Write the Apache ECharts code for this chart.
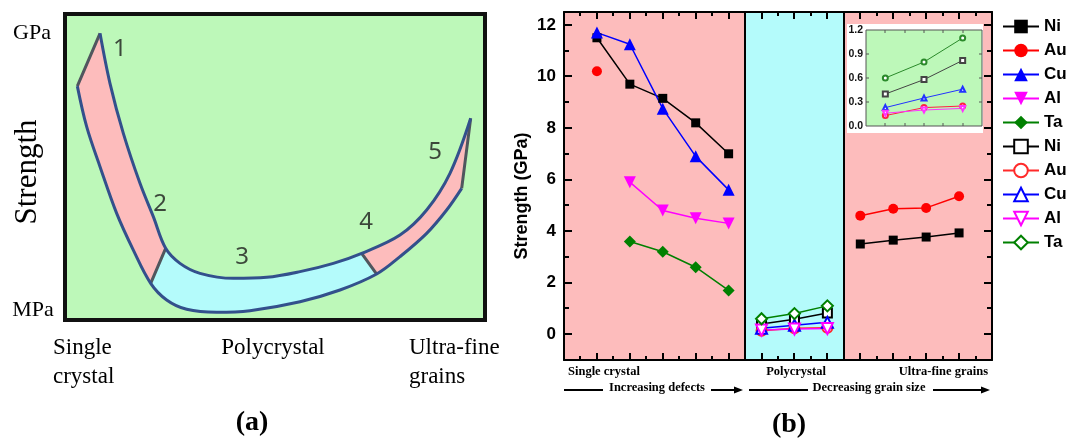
<!DOCTYPE html>
<html>
<head>
<meta charset="utf-8">
<script src="https://cdn.jsdelivr.net/npm/echarts@6/dist/echarts.min.js"></script>
<style>
  html, body { margin: 0; padding: 0; background: #fff; }
  #chart { width: 1067px; height: 447px; }
</style>
</head>
<body>
<div id="chart"></div>
<script>
// ---------- Panel (b): strength values (GPa) ----------
// x positions: 1-5 single crystal, 6-8 polycrystal, 9-12 ultra-fine grains
const positions = [1, 2, 3, 4, 5, 6, 7, 8, 9, 10, 11, 12];
const niSolid = [11.5, 9.7, 9.15, 8.2, 7.0, null, null, null, 3.5, 3.65, 3.77, 3.93];
const auSolid = [10.2, null, null, null, null, null, null, null, 4.6, 4.87, 4.9, 5.35];
const cuSolid = [11.7, 11.25, 8.75, 6.9, 5.6, null, null, null, null, null, null, null];
const alSolid = [null, 5.9, 4.8, 4.5, 4.3, null, null, null, null, null, null, null];
const taSolid = [null, 3.6, 3.2, 2.6, 1.7, null, null, null, null, null, null, null];

const polyPositions = [6, 7, 8];
const insetPositions = [1, 2, 3];
const niPoly = [0.4, 0.58, 0.82];
const auPoly = [0.13, 0.23, 0.25];
const cuPoly = [0.23, 0.35, 0.46];
const alPoly = [0.16, 0.2, 0.22];
const taPoly = [0.6, 0.8, 1.1];

const yMajorTicks = [0, 2, 4, 6, 8, 10, 12];
const yMinorTicks = [1, 3, 5, 7, 9, 11];
const xMajorTicks = [1, 2, 3, 4, 5, 6, 7, 8, 9, 10, 11, 12];
const xMinorTicks = [0.5, 1.5, 2.5, 3.5, 4.5, 5.5, 6.5, 7.5, 8.5, 9.5, 10.5, 11.5, 12.5];
const insetXTicks = [1, 1.5, 2, 2.5, 3];
const insetYTicks = [0.3, 0.6, 0.9];
// region bands: [start, end, kind]
const regionBands = [[0, 5.5, 'defect'], [5.5, 8.5, 'poly'], [8.5, 13, 'fine']];
const regionEdges = [5.5, 8.5];

// ---------- Panel (a): schematic strength band (axis units 0-100) ----------
const innerEdge = [
  [8.73, 93.12], [11.08, 76.99], [14.23, 60.86], [18.16, 44.73], [21.3, 33.98],
  [24.21, 23.76], [27.59, 18.92], [32.31, 15.7], [40.17, 14.09], [48.04, 14.41],
  [55.9, 16.24], [63.76, 18.92], [70.44, 22.15], [79.48, 28.06], [85.77, 36.13],
  [91.27, 47.96], [96.15, 65.7]
];
const outerEdge = [
  [3.38, 76.1], [5.58, 63.0], [8.73, 50.1], [12.66, 35.05], [16.59, 23.2],
  [20.68, 12.47], [24.45, 7.1], [29.17, 4.09], [36.24, 3.12], [44.1, 3.66],
  [55.9, 6.56], [65.33, 10.32], [73.98, 15.48], [79.48, 21.08], [85.77, 28.6],
  [90.49, 36.13], [94.03, 43.12]
];
const dividerIndex = [5, 12];
const stageLabels = [
  { name: '1', value: [13.44, 88.06] },
  { name: '2', value: [22.88, 38.06] },
  { name: '3', value: [42.22, 20.97] },
  { name: '4', value: [71.46, 32.26] },
  { name: '5', value: [87.74, 54.84] }
];

const SANS = '"Liberation Sans", Arial, sans-serif';
const SERIF = '"Liberation Serif", "Times New Roman", serif';
const PINK = '#fdbcbc';
const CYAN = '#b4fbfb';
const GREEN = '#bdf8b9';

function pairs(xs, ys) { return xs.map((x, i) => [x, ys[i]]); }

function solidSeries(name, ys, color, symbol, size, rotate) {
  return {
    type: 'line', name, xAxisIndex: 0, yAxisIndex: 0,
    data: pairs(positions, ys), connectNulls: false,
    symbol, symbolSize: size, symbolRotate: rotate || 0,
    lineStyle: { color, width: 1.5 }, itemStyle: { color }, z: 5
  };
}
function hollowSeries(name, ys, color, symbol, size, rotate) {
  return {
    type: 'line', name, xAxisIndex: 0, yAxisIndex: 0,
    data: pairs(polyPositions, ys),
    symbol, symbolSize: size, symbolRotate: rotate || 0,
    lineStyle: { color, width: 1.5 },
    itemStyle: { color, borderColor: color, borderWidth: 1.5 }, z: 6
  };
}
function insetSeries(name, ys, color, symbol, size, rotate) {
  return {
    type: 'line', name, xAxisIndex: 2, yAxisIndex: 4,
    data: pairs(insetPositions, ys),
    symbol, symbolSize: size, symbolRotate: rotate || 0,
    lineStyle: { color, width: 1 },
    itemStyle: { color, borderColor: color, borderWidth: 1 }, z: 42
  };
}

// inward tick marks on all four sides of a plot frame: [side (0 = x, 1 = y), value, length]
function tickSpecs(xMajor, xMinor, yMajor, yMinor, majorX, minorX, majorY, minorY) {
  return [].concat(
    xMajor.map(v => [0, v, majorX]), xMinor.map(v => [0, v, minorX]),
    yMajor.map(v => [1, v, majorY]), yMinor.map(v => [1, v, minorY]));
}
function tickRenderer(specs, xRange, yRange, color, width) {
  return (params, api) => {
    const [side, v, len] = specs[params.dataIndex];
    const style = { stroke: color, lineWidth: width };
    if (side === 0) {
      const b = api.coord([v, yRange[0]]);
      const t = api.coord([v, yRange[1]]);
      const x = Math.round(b[0]);
      return { type: 'group', children: [
        { type: 'line', shape: { x1: x, y1: b[1], x2: x, y2: b[1] - len }, style },
        { type: 'line', shape: { x1: x, y1: t[1], x2: x, y2: t[1] + len }, style }
      ] };
    }
    const l = api.coord([xRange[0], v]);
    const r = api.coord([xRange[1], v]);
    const y = Math.round(l[1]);
    return { type: 'group', children: [
      { type: 'line', shape: { x1: l[0], y1: y, x2: l[0] + len, y2: y }, style },
      { type: 'line', shape: { x1: r[0], y1: y, x2: r[0] - len, y2: y }, style }
    ] };
  };
}
const mainTicks = tickSpecs(xMajorTicks, xMinorTicks, yMajorTicks, yMinorTicks, 7, 4, 8, 5);
const insetTicks = tickSpecs(insetXTicks, [], insetYTicks, [], 3, 0, 3, 0);

// caps and dividers of the schematic band, separated by gaps
const bandCuts = [
  outerEdge[0], innerEdge[0], [null, null],
  innerEdge[dividerIndex[0]], outerEdge[dividerIndex[0]], [null, null],
  innerEdge[dividerIndex[1]], outerEdge[dividerIndex[1]], [null, null],
  innerEdge[16], outerEdge[16]
];

function bandRegion(from, to) {
  return innerEdge.slice(from, to + 1).concat(outerEdge.slice(from, to + 1).reverse());
}

const frameLine = () => ({ show: true, onZero: false, lineStyle: { color: '#000', width: 2 } });
const noTick = () => ({ show: false });

const option = {
  animation: false,
  backgroundColor: '#fff',
  grid: [
    { left: 564, top: 12, width: 428, height: 348, show: false, z: 30 },
    { left: 866, top: 30, width: 116, height: 96, show: true, backgroundColor: GREEN,
      borderColor: '#555', borderWidth: 1, z: 40 },
    { left: 63, top: 12, width: 424, height: 310, show: true, backgroundColor: GREEN, borderWidth: 0 }
  ],
  xAxis: [
    { gridIndex: 0, type: 'value', min: 0, max: 13, interval: 1, position: 'bottom', z: 30,
      axisLine: frameLine(), axisTick: noTick(),
      axisLabel: { show: false }, splitLine: { show: false } },
    { gridIndex: 0, type: 'value', min: 0, max: 13, interval: 1, position: 'top', z: 30,
      axisLine: frameLine(), axisTick: noTick(),
      axisLabel: { show: false }, splitLine: { show: false } },
    { gridIndex: 1, type: 'value', min: 0.5, max: 3.5, interval: 0.5, position: 'bottom', z: 41,
      axisLine: { show: false }, axisTick: noTick(),
      axisLabel: { show: false }, splitLine: { show: false } },
    { gridIndex: 1, type: 'value', min: 0.5, max: 3.5, interval: 0.5, position: 'top', z: 41,
      axisLine: { show: false }, axisTick: noTick(),
      axisLabel: { show: false }, splitLine: { show: false } },
    { gridIndex: 2, type: 'value', min: 0, max: 100, show: false }
  ],
  yAxis: [
    { gridIndex: 0, type: 'value', min: -1, max: 12.5, position: 'left', z: 30,
      axisLine: frameLine(), axisTick: noTick(),
      axisLabel: { show: true, customValues: yMajorTicks, fontSize: 17, fontWeight: 'bold', color: '#000',
        fontFamily: SANS, margin: 8 },
      splitLine: { show: false } },
    { gridIndex: 0, type: 'value', min: -1, max: 12.5, position: 'left', show: false },
    { gridIndex: 0, type: 'value', min: -1, max: 12.5, position: 'right', z: 30,
      axisLine: frameLine(), axisTick: noTick(),
      axisLabel: { show: false }, splitLine: { show: false } },
    { gridIndex: 0, type: 'value', min: -1, max: 12.5, position: 'right', show: false },
    { gridIndex: 1, type: 'value', min: 0, max: 1.2, interval: 0.3, position: 'left', z: 41,
      axisLine: { show: false }, axisTick: noTick(),
      axisLabel: { show: true, fontSize: 10.5, fontWeight: 'bold', color: '#111', fontFamily: SANS, margin: 3,
        formatter: v => v.toFixed(1) },
      splitLine: { show: false } },
    { gridIndex: 1, type: 'value', min: 0, max: 1.2, interval: 0.3, position: 'right', z: 41,
      axisLine: { show: false }, axisTick: noTick(),
      axisLabel: { show: false }, splitLine: { show: false } },
    { gridIndex: 2, type: 'value', min: 0, max: 100, show: false }
  ],
  legend: {
    orient: 'vertical', left: 1002, top: 18, padding: 0,
    itemWidth: 36, itemHeight: 17, itemGap: 7, selectedMode: false,
    data: ['Ni', 'Au', 'Cu', 'Al', 'Ta',
      'Ni polycrystal', 'Au polycrystal', 'Cu polycrystal', 'Al polycrystal', 'Ta polycrystal'],
    formatter: n => n.split(' ')[0],
    textStyle: { fontSize: 17, fontWeight: 'bold', fontFamily: SANS, color: '#000' }
  },
  series: [
    // background regions of panel (b), spanning the full value range
    { type: 'custom', name: 'regions', xAxisIndex: 0, yAxisIndex: 0, z: -1, silent: true,
      data: regionBands,
      renderItem: (params, api) => {
        const band = regionBands[params.dataIndex];
        const p0 = api.coord([band[0], 12.5]);
        const p1 = api.coord([band[1], -1]);
        return { type: 'rect', shape: { x: p0[0], y: p0[1], width: p1[0] - p0[0], height: p1[1] - p0[1] },
          style: { fill: band[2] === 'poly' ? CYAN : PINK } };
      } },
    { type: 'line', name: 'bounds', xAxisIndex: 0, yAxisIndex: 0, data: [], z: 3,
      markLine: { silent: true, symbol: 'none', label: { show: false },
        lineStyle: { color: '#000', width: 2, type: 'solid' },
        data: regionEdges.map(v => ({ xAxis: v })) } },
    // inward ticks of the main frame
    { type: 'custom', name: 'frame ticks', xAxisIndex: 0, yAxisIndex: 0, z: 30, silent: true,
      data: mainTicks, renderItem: tickRenderer(mainTicks, [0, 13], [-1, 12.5], '#000', 2) },

    solidSeries('Ni', niSolid, '#000000', 'rect', 9),
    solidSeries('Au', auSolid, '#ff0000', 'circle', 10),
    solidSeries('Cu', cuSolid, '#0000ff', 'triangle', 12),
    solidSeries('Al', alSolid, '#ff00ff', 'triangle', 12, 180),
    solidSeries('Ta', taSolid, '#008000', 'diamond', 12),

    hollowSeries('Ni polycrystal', niPoly, '#000000', 'emptyRect', 9),
    hollowSeries('Au polycrystal', auPoly, '#ff2a2a', 'emptyCircle', 10),
    hollowSeries('Cu polycrystal', cuPoly, '#0000ff', 'emptyTriangle', 11),
    hollowSeries('Al polycrystal', alPoly, '#ff00ff', 'emptyTriangle', 11, 180),
    hollowSeries('Ta polycrystal', taPoly, '#008000', 'emptyDiamond', 11),

    insetSeries('inset Ta', taPoly, '#2a8a2a', 'emptyCircle', 5),
    insetSeries('inset Ni', niPoly, '#444444', 'emptyRect', 5),
    insetSeries('inset Cu', cuPoly, '#2233ff', 'emptyTriangle', 5),
    insetSeries('inset Au', auPoly, '#ff2040', 'emptyCircle', 5),
    insetSeries('inset Al', alPoly, '#ff33ff', 'emptyTriangle', 5, 180),
    { type: 'custom', name: 'inset ticks', xAxisIndex: 2, yAxisIndex: 4, z: 43, silent: true,
      data: insetTicks, renderItem: tickRenderer(insetTicks, [0.5, 3.5], [0, 1.2], '#555', 1) },

    // panel (a): filled band regions
    { type: 'custom', name: 'band fill', xAxisIndex: 4, yAxisIndex: 6, data: [[0, 0]], z: 2,
      renderItem: (params, api) => {
        const toPx = pts => pts.map(p => api.coord(p));
        const regions = [
          { pts: bandRegion(0, dividerIndex[0]), fill: PINK },
          { pts: bandRegion(dividerIndex[0], dividerIndex[1]), fill: CYAN },
          { pts: bandRegion(dividerIndex[1], innerEdge.length - 1), fill: PINK }
        ];
        return { type: 'group', children: regions.map(r => ({
          type: 'polygon', shape: { points: toPx(r.pts) }, style: { fill: r.fill }
        })) };
      } },
    { type: 'line', name: 'band inner', xAxisIndex: 4, yAxisIndex: 6, data: innerEdge,
      smooth: 0.35, symbol: 'none', z: 4, lineStyle: { color: '#33508c', width: 3 } },
    { type: 'line', name: 'band outer', xAxisIndex: 4, yAxisIndex: 6, data: outerEdge,
      smooth: 0.35, symbol: 'none', z: 4, lineStyle: { color: '#33508c', width: 3 } },
    { type: 'line', name: 'band cuts', xAxisIndex: 4, yAxisIndex: 6, data: bandCuts,
      connectNulls: false, symbol: 'none', z: 3, lineStyle: { color: '#50565e', width: 3 } },
    { type: 'scatter', name: 'stages', xAxisIndex: 4, yAxisIndex: 6, data: stageLabels,
      symbolSize: 0, z: 5,
      label: { show: true, position: 'inside', formatter: '{b}', fontSize: 24,
        fontFamily: '"Noto Sans", sans-serif', color: '#1a1a1a' } }
  ],
  graphic: [
    // inset backdrop
    { type: 'rect', z: 39, shape: { x: 847, y: 24, width: 136, height: 109 }, style: { fill: '#fff' } },
    // panel (b) axis title and annotations
    { type: 'text', x: 522, y: 196, rotation: Math.PI / 2,
      style: { text: 'Strength (GPa)', font: 'bold 18px ' + SANS, fill: '#000',
        textAlign: 'center', textVerticalAlign: 'middle' } },
    { type: 'text', x: 568, y: 372, style: { text: 'Single crystal', font: 'bold 12.5px ' + SERIF,
      fill: '#000', textAlign: 'left', textVerticalAlign: 'middle' } },
    { type: 'text', x: 796, y: 372, style: { text: 'Polycrystal', font: 'bold 12.5px ' + SERIF,
      fill: '#000', textAlign: 'center', textVerticalAlign: 'middle' } },
    { type: 'text', x: 988, y: 372, style: { text: 'Ultra-fine grains', font: 'bold 12.5px ' + SERIF,
      fill: '#000', textAlign: 'right', textVerticalAlign: 'middle' } },
    { type: 'text', x: 657, y: 388, style: { text: 'Increasing defects', font: 'bold 12.5px ' + SERIF,
      fill: '#000', textAlign: 'center', textVerticalAlign: 'middle' } },
    { type: 'text', x: 869, y: 388, style: { text: 'Decreasing grain size', font: 'bold 12.5px ' + SERIF,
      fill: '#000', textAlign: 'center', textVerticalAlign: 'middle' } },
    { type: 'line', shape: { x1: 564, y1: 390, x2: 603, y2: 390 }, style: { stroke: '#000', lineWidth: 2 } },
    { type: 'line', shape: { x1: 711, y1: 390, x2: 736, y2: 390 }, style: { stroke: '#000', lineWidth: 2 } },
    { type: 'polygon', shape: { points: [[743, 390], [734, 386.5], [734, 393.5]] }, style: { fill: '#000' } },
    { type: 'line', shape: { x1: 749, y1: 390, x2: 808, y2: 390 }, style: { stroke: '#000', lineWidth: 2 } },
    { type: 'line', shape: { x1: 933, y1: 390, x2: 983, y2: 390 }, style: { stroke: '#000', lineWidth: 2 } },
    { type: 'polygon', shape: { points: [[990, 390], [981, 386.5], [981, 393.5]] }, style: { fill: '#000' } },
    { type: 'text', x: 789, y: 425, style: { text: '(b)', font: 'bold 28px ' + SERIF, fill: '#000',
      textAlign: 'center', textVerticalAlign: 'middle' } },

    // panel (a) frame and labels
    { type: 'rect', z: 10, shape: { x: 65, y: 14, width: 420, height: 306 },
      style: { fill: 'none', stroke: '#111', lineWidth: 4 } },
    { type: 'text', x: 32, y: 33, style: { text: 'GPa', font: '22px ' + SERIF, fill: '#000',
      textAlign: 'center', textVerticalAlign: 'middle' } },
    { type: 'text', x: 33, y: 310, style: { text: 'MPa', font: '22px ' + SERIF, fill: '#000',
      textAlign: 'center', textVerticalAlign: 'middle' } },
    { type: 'text', x: 28, y: 172, rotation: Math.PI / 2,
      style: { text: 'Strength', font: '31px ' + SERIF, fill: '#000',
        textAlign: 'center', textVerticalAlign: 'middle' } },
    { type: 'text', x: 53, y: 348, style: { text: 'Single', font: '23px ' + SERIF, fill: '#000',
      textAlign: 'left', textVerticalAlign: 'middle' } },
    { type: 'text', x: 53, y: 377, style: { text: 'crystal', font: '23px ' + SERIF, fill: '#000',
      textAlign: 'left', textVerticalAlign: 'middle' } },
    { type: 'text', x: 273, y: 348, style: { text: 'Polycrystal', font: '23px ' + SERIF, fill: '#000',
      textAlign: 'center', textVerticalAlign: 'middle' } },
    { type: 'text', x: 409, y: 348, style: { text: 'Ultra-fine', font: '23px ' + SERIF, fill: '#000',
      textAlign: 'left', textVerticalAlign: 'middle' } },
    { type: 'text', x: 409, y: 377, style: { text: 'grains', font: '23px ' + SERIF, fill: '#000',
      textAlign: 'left', textVerticalAlign: 'middle' } },
    { type: 'text', x: 252, y: 423, style: { text: '(a)', font: 'bold 28px ' + SERIF, fill: '#000',
      textAlign: 'center', textVerticalAlign: 'middle' } }
  ]
};

const chart = echarts.init(document.getElementById('chart'), null, { renderer: 'canvas' });
chart.setOption(option);
</script>
</body>
</html>
